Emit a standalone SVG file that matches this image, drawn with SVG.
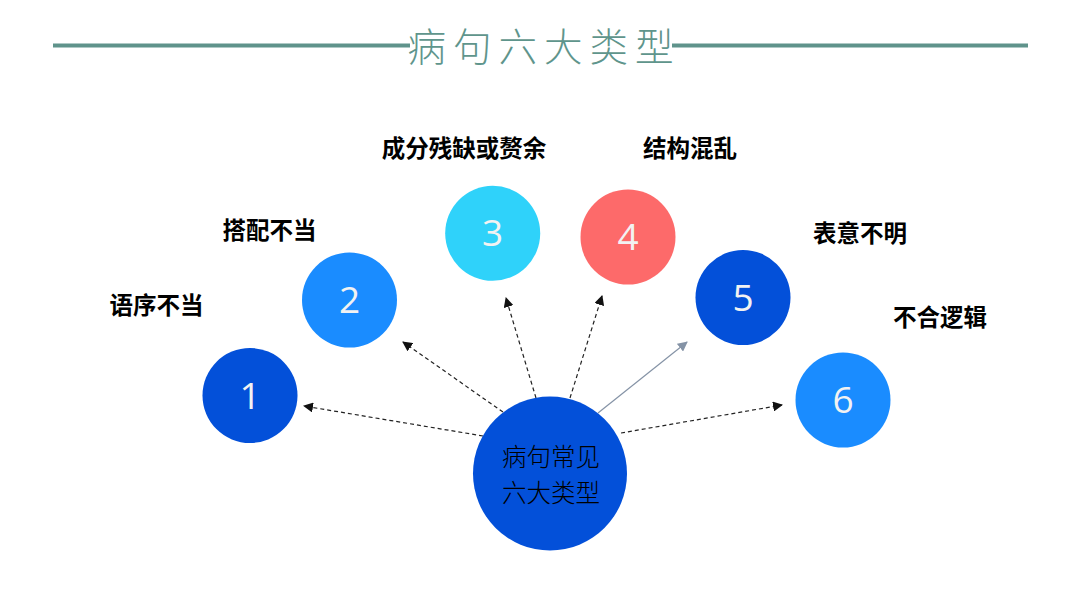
<svg xmlns="http://www.w3.org/2000/svg" width="1080" height="608" viewBox="0 0 1080 608">
<defs>
<marker id="ah" viewBox="0 0 10 10" refX="9" refY="5" markerWidth="10" markerHeight="10" markerUnits="userSpaceOnUse" orient="auto">
<path d="M0,0 L10,5 L0,10 z" fill="#111"/>
</marker>
<marker id="ahg" viewBox="0 0 10 10" refX="9" refY="5" markerWidth="10" markerHeight="10" markerUnits="userSpaceOnUse" orient="auto">
<path d="M0,0 L10,5 L0,10 z" fill="#8593a6"/>
</marker>
</defs>
<style>
.lbl{font-family:"Noto Sans CJK SC","Noto Sans",sans-serif;font-weight:700;font-size:23.5px;fill:#000;text-anchor:middle}
.num{font-family:"Open Sans","Noto Sans",sans-serif;font-weight:400;font-size:37px;fill:#f2f2f2;text-anchor:middle}
.dash{stroke:#222;stroke-width:1.2;stroke-dasharray:4 3;fill:none;marker-end:url(#ah)}
.solid{stroke:#8593a6;stroke-width:1.2;fill:none;marker-end:url(#ahg)}
.ctr{font-family:"Noto Sans CJK SC","Noto Sans",sans-serif;font-weight:300;font-size:24.5px;fill:#000;text-anchor:middle}
</style>
<rect width="1080" height="608" fill="#fff"/>
<g id="title">
<line x1="53" y1="45.5" x2="410" y2="45.5" stroke="#5f938b" stroke-width="4"/>
<line x1="672" y1="45.5" x2="1028" y2="45.5" stroke="#5f938b" stroke-width="4"/>
<text x="544" y="61" font-family="Noto Sans CJK SC,sans-serif" font-weight="300" font-size="38.5" letter-spacing="7" fill="#5f958c" text-anchor="middle">病句六大类型</text>
</g>
<g id="connectors">
<line class="dash" x1="483" y1="436" x2="304" y2="406"/>
<line class="dash" x1="503" y1="412" x2="403" y2="342"/>
<line class="dash" x1="536" y1="398" x2="506" y2="298"/>
<line class="dash" x1="570" y1="398" x2="602" y2="296"/>
<line class="solid" x1="598" y1="413" x2="687" y2="342"/>
<line class="dash" x1="621" y1="433" x2="782" y2="405"/>
</g>
<g id="center">
<circle cx="550" cy="473.5" r="77" fill="#0350d9"/>
<text class="ctr" x="551" y="466">病句常见</text>
<text class="ctr" x="551" y="502">六大类型</text>
</g>
<g id="n1">
<circle cx="250" cy="395.5" r="47.5" fill="#0350d9"/>
<text class="num" x="250" y="409">1</text>
<text class="lbl" x="156.5" y="314">语序不当</text>
</g>
<g id="n2">
<circle cx="349.5" cy="300" r="47.5" fill="#1a8cff"/>
<text class="num" x="349.5" y="313">2</text>
<text class="lbl" x="269.5" y="239">搭配不当</text>
</g>
<g id="n3">
<circle cx="492.7" cy="233.3" r="47.5" fill="#2fd2fa"/>
<text class="num" x="492.7" y="246">3</text>
<text class="lbl" x="464" y="157">成分残缺或赘余</text>
</g>
<g id="n4">
<circle cx="628" cy="237" r="47.5" fill="#fd6a6a"/>
<text class="num" x="628" y="250">4</text>
<text class="lbl" x="690" y="157">结构混乱</text>
</g>
<g id="n5">
<circle cx="743" cy="297.5" r="47.5" fill="#0350d9"/>
<text class="num" x="743" y="311">5</text>
<text class="lbl" x="860" y="242">表意不明</text>
</g>
<g id="n6">
<circle cx="843" cy="400" r="47.5" fill="#1a8cff"/>
<text class="num" x="843" y="413">6</text>
<text class="lbl" x="940" y="326">不合逻辑</text>
</g>
</svg>
